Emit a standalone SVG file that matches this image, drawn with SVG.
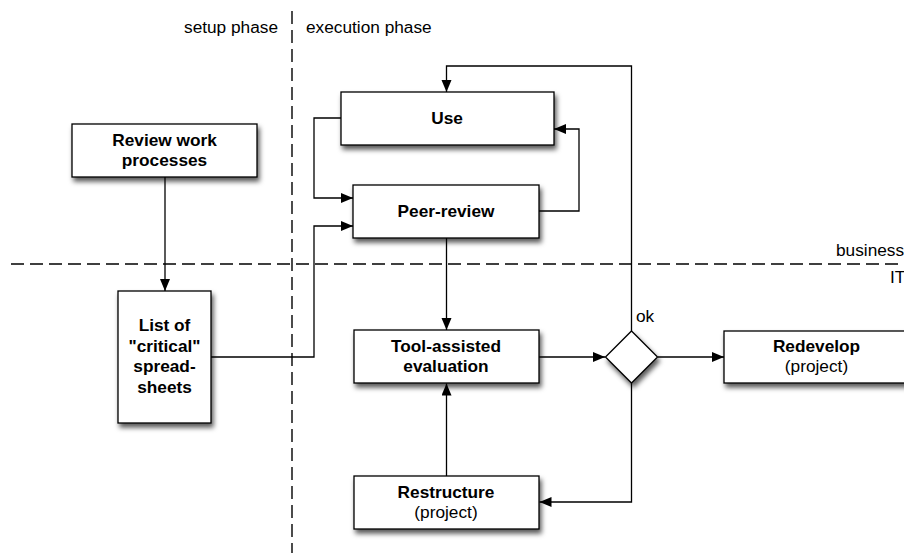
<svg xmlns="http://www.w3.org/2000/svg" width="904" height="553" viewBox="0 0 904 553">
<style>
.box{fill:#fff;stroke:#000;stroke-width:1.3;filter:url(#sh)}
.c{fill:none;stroke:#000;stroke-width:1.3;marker-end:url(#ah)}
.dash{fill:none;stroke:#000;stroke-width:1.4;stroke-dasharray:13 6}
text{font-family:"Liberation Sans",Arial,Helvetica,sans-serif;font-size:17.25px;fill:#000}
.b{font-weight:bold;text-anchor:middle}
.r{text-anchor:middle}
</style>
<defs>
<filter id="sh" x="-20%" y="-30%" width="150%" height="180%">
<feDropShadow dx="2" dy="4" stdDeviation="2.5" flood-color="#000" flood-opacity="0.65"/>
</filter>
<marker id="ah" markerUnits="userSpaceOnUse" markerWidth="13" markerHeight="11" refX="12" refY="5" orient="auto">
<path d="M0,0 L12,5 L0,10 z" fill="#000"/>
</marker>
</defs>
<g id="lanes">
<line class="dash" x1="292" y1="11" x2="292" y2="553"/>
<line class="dash" x1="11" y1="264" x2="904" y2="264"/>
<text x="278" y="33" text-anchor="end">setup phase</text>
<text x="306" y="33">execution phase</text>
<text x="836" y="256">business</text>
<text x="890" y="283">IT</text>
</g>
<g id="connectors">
<path class="c" d="M165,177 V291"/>
<path class="c" d="M211,357 H314 V226 H353"/>
<path class="c" d="M341,118 H314 V198 H353"/>
<path class="c" d="M539,211 H579 V129 H554"/>
<path class="c" d="M446.5,238 V330"/>
<path class="c" d="M446.5,476 V383.5"/>
<path class="c" d="M539,357 H605"/>
<path class="c" d="M658,357 H724"/>
<path class="c" d="M631.5,331 V66 H446.5 V92"/>
<path class="c" d="M631.5,383 V502 H539.5"/>
<text x="636" y="322">ok</text>
</g>
<g id="review">
<rect class="box" x="72" y="124" width="185" height="53"/>
<text class="b" x="164.5" y="146">Review work</text>
<text class="b" x="164.5" y="166">processes</text>
</g>
<g id="list">
<rect class="box" x="118" y="291" width="93" height="132"/>
<text class="b" x="164.5" y="331">List of</text>
<text class="b" x="164.5" y="351.5">"critical"</text>
<text class="b" x="164.5" y="372">spread-</text>
<text class="b" x="164.5" y="392.5">sheets</text>
</g>
<g id="use">
<rect class="box" x="341" y="92" width="213" height="53"/>
<text class="b" x="447" y="124">Use</text>
</g>
<g id="peer">
<rect class="box" x="353" y="185" width="186" height="53"/>
<text class="b" x="446" y="217">Peer-review</text>
</g>
<g id="tool">
<rect class="box" x="354" y="330" width="185" height="53"/>
<text class="b" x="446" y="352">Tool-assisted</text>
<text class="b" x="446" y="372">evaluation</text>
</g>
<g id="restructure">
<rect class="box" x="354" y="476" width="185" height="53"/>
<text class="b" x="446" y="498">Restructure</text>
<text class="r" x="446" y="518">(project)</text>
</g>
<g id="decision">
<path class="box" d="M631.5,331 L657.5,357 L631.5,383 L605.5,357 z"/>
</g>
<g id="redevelop">
<rect class="box" x="724" y="331" width="185" height="52"/>
<text class="b" x="816.5" y="352">Redevelop</text>
<text class="r" x="816.5" y="372">(project)</text>
</g>
</svg>
